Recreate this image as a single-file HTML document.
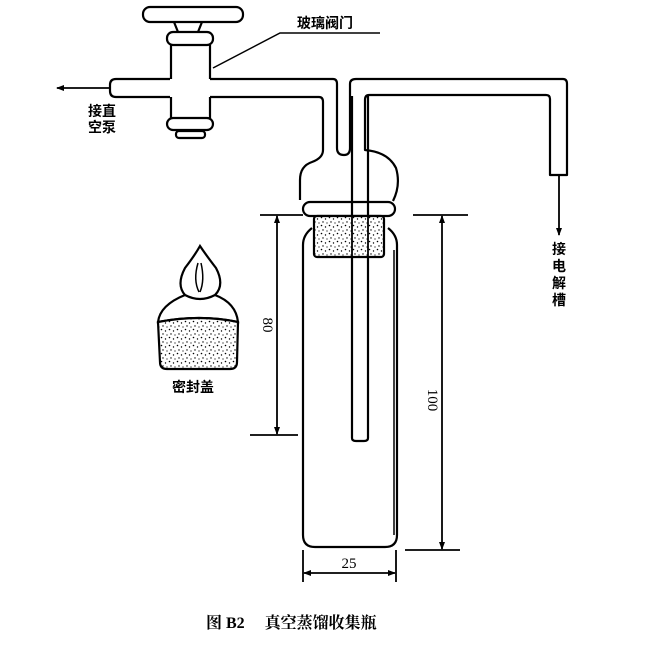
<!DOCTYPE html>
<html><head><meta charset="utf-8"><style>
body{margin:0;background:#fff}
svg{display:block}
text{font-family:"Liberation Serif","Noto Serif CJK SC",serif;fill:#000}
.c{font-family:"Liberation Sans","Noto Sans CJK SC",sans-serif;font-weight:bold}
</style></head><body>
<svg width="658" height="646" viewBox="0 0 658 646" xmlns="http://www.w3.org/2000/svg">
<defs>
<pattern id="dots" width="8" height="8" patternUnits="userSpaceOnUse">
<rect width="8" height="8" fill="#fff"/>
<circle cx="1.5" cy="1.5" r="0.8" fill="#000"/><circle cx="5.5" cy="3" r="0.7" fill="#000"/>
<circle cx="3" cy="6" r="0.7" fill="#000"/><circle cx="7" cy="7" r="0.6" fill="#000"/>
</pattern>
<marker id="ar" markerWidth="8" markerHeight="8" refX="7" refY="4" orient="auto" markerUnits="userSpaceOnUse"><path d="M0,1 L8,4 L0,7 Z" fill="#000"/></marker>
</defs>
<g fill="none" stroke="#000" stroke-width="2.2" stroke-linejoin="round">
<rect x="143" y="7" width="100" height="15" rx="7"/>
<path d="M174,22 L178,32 M202,22 L198,32"/>
<rect x="167" y="32" width="46" height="13" rx="6"/>
<path d="M171,45 L171,79 M210,45 L210,79 M171,97 L171,118 M210,97 L210,118"/>
<rect x="167" y="118" width="46" height="12" rx="6"/>
<rect x="176" y="131" width="29" height="7" rx="3"/>
<path d="M170,79 L116,79 Q110,79 110,85 L110,91 Q110,97 116,97 L170,97"/>
<path d="M210,79 L333,79 Q337,79 337,84 L337,148 Q337,155 344,155 Q350,155 350,148 L350,84 Q350,79 356,79 L563,79 Q567,79 567,84 L567,175 L550,175 L550,99 Q550,95 546,95 L369,95 Q365,95 365,100"/>
<path d="M210,97 L319,97 Q323,97 323,102 L323,150 Q323,158 312,162 Q300,166 300,180 L300,200"/>
<path d="M365,100 L365,150 Q388,152 396,168 Q401,185 393,201"/>
<rect x="303" y="202" width="92" height="14" rx="7"/>
<path d="M312,228 Q303,235 303,245 L303,535 Q303,547 315,547 L385,547 Q397,547 397,535 L397,245 Q397,235 388,228"/>
<path d="M394,250 L394,535" stroke-width="1.5"/>
<path d="M352,96 L352,438 Q352,441 356,441 L364,441 Q368,441 368,438 L368,96"/>
</g>
<rect x="314" y="216" width="70" height="41" rx="3" fill="url(#dots)" stroke="#000" stroke-width="2.2"/>
<path d="M352,216 L352,257 M368,216 L368,257" stroke="#000" stroke-width="1.8"/>
<g stroke="#000" stroke-width="2.2" fill="none">
<path d="M200,246 Q195,255 185,268 Q176,285 185,295 Q200,303 215,295 Q225,285 216,268 Q206,255 200,246 Z"/>
<path d="M198,263 Q193,280 199,292 M201,263 Q205,280 200,292" stroke-width="1.5"/>
<path d="M185,295 Q160,305 158,322 Q200,314 238,322 Q236,303 215,295"/>
<path d="M158,322 L160,362 Q160,369 167,369 L230,369 Q237,369 237,362 L238,322 Q200,314 158,322 Z" fill="url(#dots)"/>
</g>
<path d="M213,68 L280,33 L380,33" stroke="#000" stroke-width="1.5" fill="none"/>
<g stroke="#000" stroke-width="1.8" fill="none">
<line x1="110" y1="88" x2="57" y2="88" marker-end="url(#ar)"/>
<line x1="559" y1="175" x2="559" y2="235" marker-end="url(#ar)"/>
<line x1="260" y1="215" x2="303" y2="215"/>
<line x1="250" y1="435" x2="298" y2="435"/>
<line x1="277" y1="325" x2="277" y2="216" marker-end="url(#ar)"/>
<line x1="277" y1="325" x2="277" y2="434" marker-end="url(#ar)"/>
<line x1="413" y1="215" x2="468" y2="215"/>
<line x1="405" y1="550" x2="460" y2="550"/>
<line x1="442" y1="400" x2="442" y2="216" marker-end="url(#ar)"/>
<line x1="442" y1="400" x2="442" y2="549" marker-end="url(#ar)"/>
<line x1="303" y1="550" x2="303" y2="582"/>
<line x1="396" y1="550" x2="396" y2="582"/>
<line x1="350" y1="573" x2="304" y2="573" marker-end="url(#ar)"/>
<line x1="350" y1="573" x2="395" y2="573" marker-end="url(#ar)"/>
</g>
<text class="c" x="297" y="28" font-size="14">玻璃阀门</text>
<text class="c" x="88" y="116" font-size="14">接直</text>
<text class="c" x="88" y="132" font-size="14">空泵</text>
<text class="c" x="552" y="254" font-size="14">接</text>
<text class="c" x="552" y="271" font-size="14">电</text>
<text class="c" x="552" y="288" font-size="14">解</text>
<text class="c" x="552" y="305" font-size="14">槽</text>
<text class="c" x="172" y="392" font-size="14">密封盖</text>
<text x="0" y="0" font-size="15" transform="translate(263,325) rotate(90)" text-anchor="middle">80</text>
<text x="0" y="0" font-size="15" transform="translate(428,400) rotate(90)" text-anchor="middle">100</text>
<text x="349" y="568" font-size="15" text-anchor="middle">25</text>
<text x="206" y="628" font-size="16" font-weight="bold">图 B2　 真空蒸馏收集瓶</text>
</svg>
</body></html>
